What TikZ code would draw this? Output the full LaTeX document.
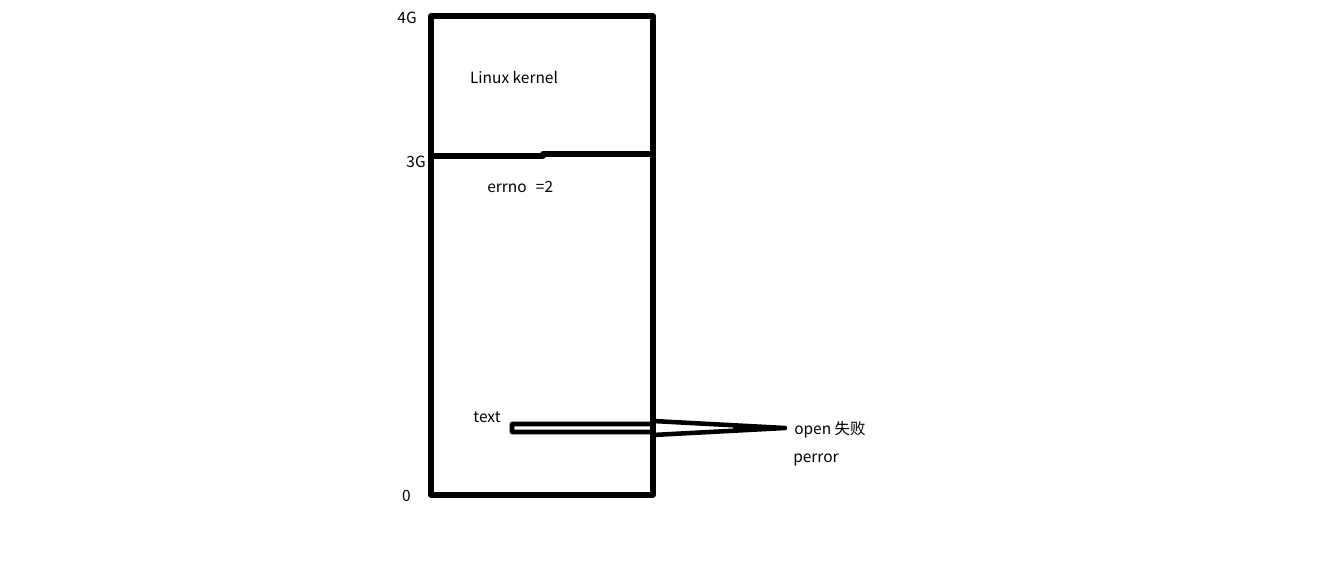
\documentclass[tikz,border=0pt]{standalone}
\usepackage{fontspec}
\setmainfont{Noto Sans CJK SC}
\usetikzlibrary{calc}

\begin{document}
\begin{tikzpicture}[x=0.75pt,y=-0.75pt,
    wall/.style={line width=3.8pt,line join=round},
    lbl/.style={font=\fontsize{11.6}{13}\selectfont,inner sep=0pt}]
  \useasboundingbox (0,0) rectangle (1341,577);

  % memory box
  \coordinate (top) at (431,16);
  \coordinate (bot) at (653,495);
  \draw[wall] (top) rectangle (bot);
  \draw[wall] (431,156) -- (543,156) -- (543,154) -- (653,154);

  \node[lbl,anchor=east] (g4) at (417,18) {4G};
  \node[lbl,anchor=east] (g3) at (426,162) {3G};
  \node[lbl,anchor=east] (g0) at (411,496) {0};

  \node[lbl] (kernel) at (514,77) {Linux kernel};
  \node[lbl,anchor=west] (errno) at (487,187) {errno\hspace{7pt}=2};
  \node[lbl] (txt) at (487,417) {text};

  % arrow out of the box
  \coordinate (tail) at (512,428);
  \coordinate (tip) at (785,428);
  \draw[line width=3.4pt,line join=round]
    ($(tail)+(0,-4)$) -- (653,424) -- (653,421) -- (tip)
    -- (653,435) -- (653,432) -- ($(tail)+(0,4)$) -- cycle;
  \fill (733,425) -- (tip) -- (733,431) -- cycle;

  \node[lbl,anchor=west] (fail) at (794,430) {open 失败};
  \node[lbl,anchor=west] (perr) at (793,460) {perror};
\end{tikzpicture}
\end{document}
